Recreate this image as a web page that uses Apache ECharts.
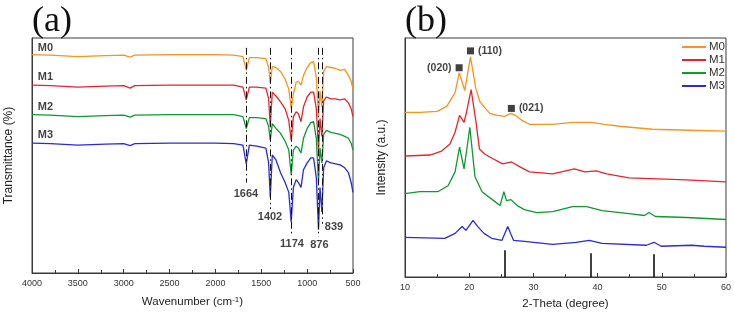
<!DOCTYPE html>
<html>
<head>
<meta charset="utf-8">
<script src="https://cdn.jsdelivr.net/npm/echarts@6/dist/echarts.min.js"></script>
<style>
	html, body { margin: 0; padding: 0; background: #fff; }
	#chart { width: 734px; height: 315px; }
</style>
</head>
<body>
<div id="chart"></div>
<script>
//FTIR 파수(cm-1)와 각 샘플 투과율(오프셋 포함, 임의 단위)
const ftirWn = [4000, 3800, 3500, 3200, 3000, 2930, 2880, 2500, 2000, 1800, 1700, 1664, 1630, 1550, 1450, 1420, 1402, 1380, 1340, 1290, 1240, 1200, 1174, 1150, 1120, 1095, 1067, 1040, 1000, 960, 930, 900, 876, 860, 839, 820, 790, 740, 690, 640, 590, 550, 520, 500];
const ftirM0 = [222, 221.5, 220, 221, 221.5, 219.5, 221.5, 222, 222, 221.5, 220, 206, 219, 219, 218, 209, 193, 210, 209, 205, 197, 187, 167, 182, 194, 195, 191, 201, 209, 214, 215, 199, 159, 185, 169, 205, 210, 209, 208, 206, 207, 201, 195, 187];
const ftirM1 = [191, 190.5, 189, 190, 190.5, 188, 190.5, 191, 191, 191, 189, 176, 189, 189, 188, 177, 149, 184, 180, 174, 167, 155, 135, 159, 164, 162, 154, 169, 179, 184, 184, 167, 125, 157, 139, 175, 179, 177, 177, 176, 177, 173, 167, 159];
const ftirM2 = [161, 160.5, 159, 160, 160.5, 158.5, 160.5, 161, 161, 161, 159, 147, 158, 158, 157, 149, 135, 152, 147, 142, 134, 125, 100, 125, 129, 127, 122, 137, 147, 153, 154, 137, 92, 127, 112, 141, 145, 143, 142, 141, 139, 137, 132, 125];
const ftirM3 = [132, 131.5, 130, 131, 131.5, 129.5, 131.5, 132, 132, 131.5, 130, 111, 130, 129, 127, 112, 77, 120, 115, 102, 92, 82, 52, 87, 95, 92, 87, 105, 112, 117, 117, 97, 44, 87, 62, 107, 114, 112, 111, 110, 107, 102, 92, 82];

//FTIR 피크 표시선
const ftirPeaks = [1664, 1402, 1174, 876, 839];
const ftirPeakTop = 229;
const ftirPeakLow = [92, 65, 39, 37, 50];
const ftirPeakLabelWn = [1667, 1405, 1165, 866, 707];
const ftirPeakLabelV = [80, 57, 30, 28, 47];

//FTIR 샘플 이름 위치
const sampleNames = ['M0', 'M1', 'M2', 'M3'];
const ftirNameWn = 3853;
const ftirNameV = [229, 199, 169, 140];

//XRD 2-Theta, 강도(오프셋 포함, 임의 단위)
const xrdM0 = [[10, 166], [12.3, 166], [15, 167], [16.5, 172], [17.8, 186], [18.45, 206], [19.3, 188], [20.2, 222], [21.0, 191], [21.65, 177], [22.4, 171], [23.2, 165], [24.4, 163], [25.5, 162], [26.5, 165], [27.2, 163], [28.2, 158], [29.4, 154], [33, 154], [36.1, 156], [39, 156], [41.1, 154], [43.4, 152], [48.5, 149], [54.3, 148], [60, 147]];
const xrdM1 = [[10, 122], [13.9, 123], [15.7, 127], [17, 134], [17.8, 146], [18.5, 163], [19.2, 156], [19.6, 167], [20.3, 189], [21, 159], [21.6, 129], [22.4, 124], [23.2, 121], [25.2, 114], [26.6, 116], [27.9, 111], [29.4, 106], [33, 104], [36.4, 109], [38, 106], [39.8, 107], [41.4, 104], [44.9, 100], [53.8, 98], [60, 96]];
const xrdM2 = [[10, 84], [12.3, 86], [15.1, 86], [16.7, 92], [17.8, 106], [18.5, 131], [19.2, 109], [19.5, 111], [20.1, 151], [20.9, 101], [22, 86], [24, 76], [24.8, 72], [25.4, 86], [25.8, 77], [26.5, 78], [27.5, 72], [28.6, 68], [30.5, 65], [33, 66], [36.1, 71], [38.3, 71], [40.7, 67], [44.9, 64], [47.3, 62], [48, 65], [49, 61], [53.8, 60], [60, 58]];
const xrdM3 = [[10, 40], [16.2, 39], [17.8, 44], [18.9, 51], [19.5, 47], [20.6, 57], [21.3, 51], [22.3, 44], [23.5, 39], [25.1, 37], [25.5, 43], [26, 51], [26.5, 43], [26.9, 37], [28.6, 36], [33, 33], [36.7, 35], [38.7, 37], [40.7, 34], [47.6, 32], [48.8, 35], [49.9, 31], [54.7, 32], [56.6, 31], [60, 30]];

//표준 패턴 막대 (2-Theta, 높이)
const refSticks = [[25.5, 27], [38.9, 24], [48.8, 23]];

//결정면 표시
const planeLabels = ['(020)', '(110)', '(021)'];
const planePos = [[18.43, 211], [20.2, 228], [26.57, 170]];

const colors = ['#f7931e', '#e8232b', '#0e9a30', '#2a2ad8'];
const ftirData = [ftirM0, ftirM1, ftirM2, ftirM3];
const xrdData = [xrdM0, xrdM1, xrdM2, xrdM3];

function drawChart() {
	const myChart = echarts.init(document.getElementById('chart'));
	const axisColor = '#3a3a3a';
	let series = [];

	//FTIR 곡선
	ftirData.forEach((vals, i) => {
		series.push({
			name: 'FTIR ' + sampleNames[i],
			type: 'line',
			xAxisIndex: 0,
			yAxisIndex: 0,
			symbol: 'none',
			lineStyle: { width: 1.3, color: colors[i] },
			data: ftirWn.map((wn, k) => [wn, vals[k]]),
			z: 3
		});
	});

	//FTIR 피크 점쇄선
	series.push({
		type: 'line',
		xAxisIndex: 0,
		yAxisIndex: 0,
		data: [],
		markLine: {
			silent: true,
			symbol: ['none', 'none'],
			label: { show: false },
			lineStyle: { color: '#111', width: 1, type: [7, 3, 1.5, 3] },
			data: ftirPeaks.map((wn, i) => [{ coord: [wn, ftirPeakTop] }, { coord: [wn, ftirPeakLow[i]] }])
		},
		z: 4
	});

	//FTIR 피크 라벨
	series.push({
		type: 'scatter',
		xAxisIndex: 0,
		yAxisIndex: 0,
		symbolSize: 0,
		silent: true,
		label: {
			show: true, position: 'inside', color: '#111',
			fontFamily: 'Arial, Liberation Sans', fontWeight: 'bold', fontSize: 11,
			formatter: (p) => String(ftirPeaks[p.dataIndex])
		},
		data: ftirPeakLabelWn.map((wn, i) => [wn, ftirPeakLabelV[i]])
	});

	//FTIR 샘플 이름
	series.push({
		type: 'scatter',
		xAxisIndex: 0,
		yAxisIndex: 0,
		symbolSize: 0,
		silent: true,
		label: {
			show: true, position: 'inside', color: '#111',
			fontFamily: 'Arial, Liberation Sans', fontWeight: 'bold', fontSize: 11,
			formatter: (p) => sampleNames[p.dataIndex]
		},
		data: ftirNameV.map((v) => [ftirNameWn, v])
	});

	//XRD 곡선
	xrdData.forEach((pts, i) => {
		series.push({
			name: sampleNames[i],
			type: 'line',
			xAxisIndex: 1,
			yAxisIndex: 1,
			symbol: 'none',
			lineStyle: { width: 1.3, color: colors[i] },
			itemStyle: { color: colors[i] },
			data: pts,
			z: 3
		});
	});

	//XRD 표준 패턴 막대
	series.push({
		type: 'line',
		xAxisIndex: 1,
		yAxisIndex: 1,
		data: [],
		markLine: {
			silent: true,
			symbol: ['none', 'none'],
			label: { show: false },
			lineStyle: { color: '#111', width: 1.6, type: 'solid' },
			data: refSticks.map((s) => [{ coord: [s[0], 0] }, { coord: [s[0], s[1]] }])
		}
	});

	//결정면 표시 (■ + 라벨)
	series.push({
		type: 'scatter',
		xAxisIndex: 1,
		yAxisIndex: 1,
		symbol: 'rect',
		symbolSize: 7,
		silent: true,
		itemStyle: { color: '#111' },
		label: {
			show: true, color: '#111',
			fontFamily: 'Arial, Liberation Sans', fontWeight: 'bold', fontSize: 10.5,
			distance: 4,
			formatter: (p) => planeLabels[p.dataIndex]
		},
		data: planePos.map((pos, i) => ({
			value: pos,
			label: { position: i == 0 ? 'left' : 'right' }
		}))
	});

	const xAxisBase = {
		axisLine: { show: true, onZero: false, lineStyle: { color: axisColor, width: 1 } },
		axisTick: { show: true, inside: true, length: 4, lineStyle: { color: axisColor } },
		minorTick: { show: true, splitNumber: 2, length: 3, lineStyle: { color: axisColor } },
		splitLine: { show: false },
		axisLabel: { color: '#333', fontSize: 9, fontFamily: 'Arial, Liberation Sans', margin: 6, formatter: (v) => String(v) },
		nameLocation: 'middle',
		nameTextStyle: { color: '#222', fontSize: 11.5, fontFamily: 'Arial, Liberation Sans' }
	};

	const yAxisBase = {
		type: 'value',
		axisLine: { show: true, lineStyle: { color: axisColor, width: 1 } },
		axisTick: { show: false },
		axisLabel: { show: false },
		splitLine: { show: false },
		nameLocation: 'middle',
		nameGap: 17,
		nameTextStyle: { color: '#222', fontSize: 12, fontFamily: 'Arial, Liberation Sans' }
	};

	const option = {
		animation: false,
		backgroundColor: '#fff',
		title: [
			{ text: '(a)', left: 27, top: -1, textStyle: { fontFamily: 'Liberation Serif, Times New Roman', fontSize: 36, fontWeight: 'normal', color: '#111' } },
			{ text: '(b)', left: 400, top: -1, textStyle: { fontFamily: 'Liberation Serif, Times New Roman', fontSize: 36, fontWeight: 'normal', color: '#111' } }
		],
		legend: {
			data: sampleNames,
			orient: 'vertical',
			right: 9,
			top: 41,
			padding: 0,
			itemWidth: 24,
			itemHeight: 12,
			itemGap: 1,
			itemStyle: { opacity: 0 },
			textStyle: { color: '#333', fontSize: 11.5, fontFamily: 'Arial, Liberation Sans', padding: [0, 0, 0, -2] }
		},
		grid: [
			{ left: 32, right: 381, top: 38, bottom: 38, show: true, borderColor: axisColor, borderWidth: 1 },
			{ left: 405, right: 7, top: 38, bottom: 36, show: true, borderColor: axisColor, borderWidth: 1 }
		],
		xAxis: [
			Object.assign({}, xAxisBase, {
				type: 'value', gridIndex: 0, min: 500, max: 4000, interval: 500, inverse: true,
				name: 'Wavenumber (cm{sup|-1})', nameGap: 23,
				nameTextStyle: Object.assign({}, xAxisBase.nameTextStyle, { rich: { sup: { fontSize: 8, verticalAlign: 'top', lineHeight: 8, color: '#222', padding: [0, 0, 6, 0] } } })
			}),
			Object.assign({}, xAxisBase, {
				type: 'value', gridIndex: 1, min: 10, max: 60, interval: 10,
				name: '2-Theta (degree)', nameGap: 21
			})
		],
		yAxis: [
			Object.assign({}, yAxisBase, { gridIndex: 0, min: 0, max: 239, name: 'Transmittance (%)' }),
			Object.assign({}, yAxisBase, { gridIndex: 1, min: 0, max: 241, name: 'Intensity (a.u.)' })
		],
		series: series
	};

	myChart.setOption(option);
}

drawChart();
</script>
</body>
</html>
